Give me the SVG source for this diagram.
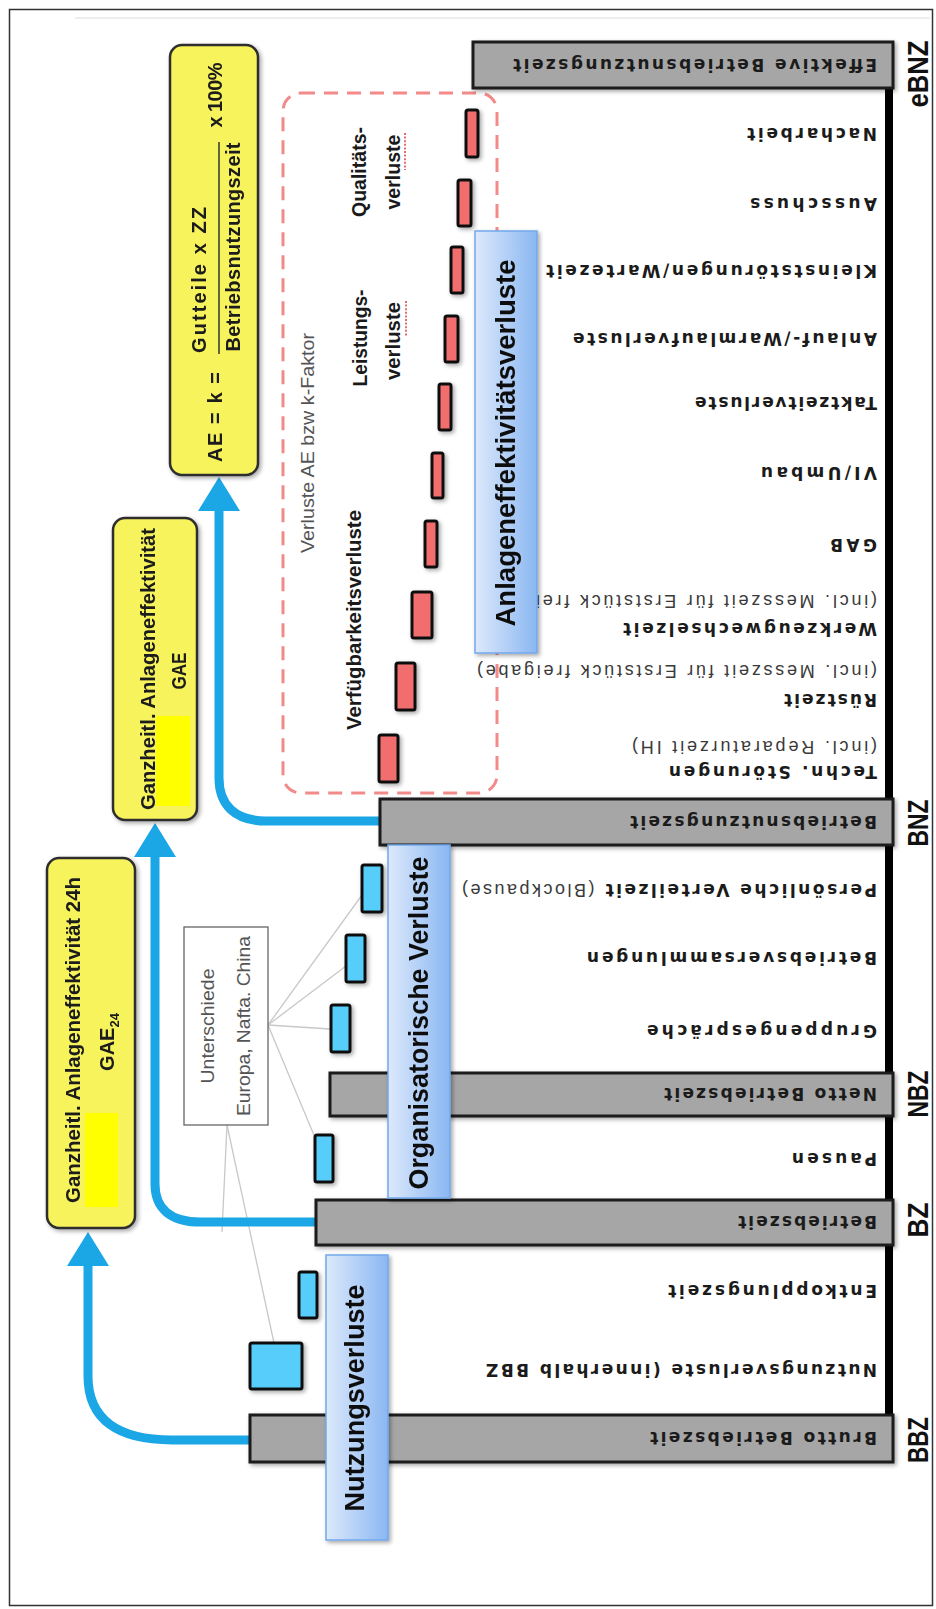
<svg xmlns="http://www.w3.org/2000/svg" width="936" height="1609" viewBox="0 0 936 1609">
  <defs>
    <style>
      .row { font-family: "DejaVu Sans", "Liberation Sans", Arial, sans-serif; font-weight: bold; font-size: 17px; fill: #1b1b1b; }
      .thin { font-family: "Liberation Sans Narrow", "Liberation Sans", Arial, sans-serif; font-weight: normal; font-size: 18px; fill: #3a3a3a; }
      .axis { font-family: "Liberation Sans Narrow", "Liberation Sans", Arial, sans-serif; font-weight: bold; font-size: 30px; fill: #111; }
      .vt { font-family: "Liberation Sans", Arial, sans-serif; font-weight: bold; font-size: 27px; fill: #111; }
      .yt { font-family: "Liberation Sans Narrow", "Liberation Sans", Arial, sans-serif; font-weight: bold; font-size: 20px; fill: #1a1a1a; }
      .note { font-family: "Liberation Sans Narrow", "Liberation Sans", Arial, sans-serif; font-size: 19px; fill: #555; }
      .cat { font-family: "Liberation Sans Narrow", "Liberation Sans", Arial, sans-serif; font-weight: bold; font-size: 20px; fill: #1a1a1a; }
      .bar { fill: #a6a6a6; stroke: #1c1c1c; stroke-width: 3; }
      .red { fill: #f26e6e; stroke: #111; stroke-width: 3; }
      .blu { fill: #56cdfb; stroke: #111; stroke-width: 3; }
      .ybox { fill: #f7f35c; stroke: #2e2e2e; stroke-width: 2.5; }
      .bbox { fill: url(#blueGrad); stroke: #73a9ec; stroke-width: 1.5; }
      .flow { fill: none; stroke: #1ba6e6; stroke-width: 9; }
      .ann { stroke: #c8c8c8; stroke-width: 1.3; fill: none; }
      .squig { stroke: #e04848; stroke-width: 1.6; stroke-dasharray: 2 1.6; }
    </style>
    <linearGradient id="blueGrad" x1="0" y1="0" x2="1" y2="0">
      <stop offset="0" stop-color="#dde9fb"/>
      <stop offset="1" stop-color="#8ab7f2"/>
    </linearGradient>
    <filter id="sh" x="-20%" y="-20%" width="140%" height="140%">
      <feDropShadow dx="2" dy="2" stdDeviation="2" flood-color="#000" flood-opacity="0.35"/>
    </filter>
    <marker id="head" viewBox="0 0 34 42" refX="0" refY="21" markerWidth="34" markerHeight="42" markerUnits="userSpaceOnUse" orient="auto">
      <path d="M0,0 L34,21 L0,42 Z" fill="#1ba6e6"/>
    </marker>
  </defs>

  <rect width="936" height="1609" fill="#fff"/>
  <!-- outer frame -->
  <rect x="9.5" y="9.5" width="923" height="1596" fill="none" stroke="#333" stroke-width="1.5"/>
  <line x1="75" y1="18" x2="930" y2="18" stroke="#eeeeee" stroke-width="2"/>

  <!-- dashed grouping of AE losses -->
  <rect id="ae-loss-frame" x="283" y="93" width="214" height="700" rx="18" fill="none" stroke="#f28a8a" stroke-width="3" stroke-dasharray="14 9"/>

  <!-- connectors -->
  <g id="connectors">
    <line class="ann" x1="268" y1="1025" x2="362" y2="895"/>
    <line class="ann" x1="268" y1="1025" x2="346" y2="966"/>
    <line class="ann" x1="268" y1="1025" x2="330" y2="1029"/>
    <line class="ann" x1="268" y1="1025" x2="316" y2="1140"/>
    <line class="ann" x1="227" y1="1125" x2="274" y2="1343"/>
    <line class="ann" x1="227" y1="1125" x2="222" y2="1232"/>
    <path class="flow" d="M251,1440 H172 C118,1440 88,1420 88,1376 V1266" marker-end="url(#head)"/>
    <path class="flow" d="M316,1222 H200 C170,1222 155,1208 155,1184 V857" marker-end="url(#head)"/>
    <path class="flow" d="M380,821 H266 C235,821 219,805 219,778 V511" marker-end="url(#head)"/>
  </g>

  <!-- time axis -->
  <line id="axis" x1="889" y1="42" x2="889" y2="1463" stroke="#000" stroke-width="8"/>

  <!-- time bars -->
  <g id="bar-ebnz"><rect class="bar" x="473" y="42" width="420" height="46" filter="url(#sh)"/></g>
  <g id="bar-bnz"><rect class="bar" x="380" y="799" width="513" height="46" filter="url(#sh)"/></g>
  <g id="bar-nbz"><rect class="bar" x="330" y="1073" width="563" height="43" filter="url(#sh)"/></g>
  <g id="bar-bz"><rect class="bar" x="316" y="1200" width="577" height="45" filter="url(#sh)"/></g>
  <g id="bar-bbz"><rect class="bar" x="250" y="1415" width="643" height="47" filter="url(#sh)"/></g>

  <!-- loss markers -->
  <g id="markers-red" filter="url(#sh)">
    <rect class="red" x="466" y="110" width="12" height="47" rx="2"/>
    <rect class="red" x="458" y="180" width="13" height="46" rx="2"/>
    <rect class="red" x="451" y="247" width="12" height="46" rx="2"/>
    <rect class="red" x="445" y="316" width="13" height="46" rx="2"/>
    <rect class="red" x="439" y="384" width="12" height="46" rx="2"/>
    <rect class="red" x="432" y="453" width="11" height="45" rx="2"/>
    <rect class="red" x="425" y="521" width="12" height="46" rx="2"/>
    <rect class="red" x="412" y="592" width="20" height="46" rx="2"/>
    <rect class="red" x="396" y="663" width="19" height="47" rx="2"/>
    <rect class="red" x="379" y="735" width="19" height="47" rx="2"/>
  </g>
  <g id="markers-blue" filter="url(#sh)">
    <rect class="blu" x="362" y="865" width="20" height="47" rx="2"/>
    <rect class="blu" x="346" y="935" width="19" height="47" rx="2"/>
    <rect class="blu" x="331" y="1005" width="19" height="47" rx="2"/>
    <rect class="blu" x="315" y="1135" width="18" height="47" rx="2"/>
    <rect class="blu" x="299" y="1272" width="18" height="46" rx="2"/>
    <rect class="blu" x="250" y="1343" width="52" height="46" rx="2"/>
  </g>

  <!-- row labels (set upside down along the time axis) -->
  <g id="row-labels" class="row" dominant-baseline="central">
    <text transform="translate(877,65) rotate(180)" textLength="364">Effektive Betriebsnutzungszeit</text>
    <text transform="translate(877,134) rotate(180)" textLength="130">Nacharbeit</text>
    <text transform="translate(877,204) rotate(180)" textLength="127">Ausschuss</text>
    <text transform="translate(877,271) rotate(180)" textLength="331">Kleinststörungen/Wartezeit</text>
    <text transform="translate(877,339) rotate(180)" textLength="304">Anlauf-/Warmlaufverluste</text>
    <text transform="translate(877,403) rotate(180)" textLength="182">Taktzeitverluste</text>
    <text transform="translate(877,473) rotate(180)" textLength="116">VI/Umbau</text>
    <text transform="translate(877,545) rotate(180)" textLength="47">GAB</text>
    <text class="thin" transform="translate(877,601) rotate(180)" textLength="341">(incl. Messzeit für Erststück frei</text>
    <text transform="translate(877,629) rotate(180)" textLength="254">Werkzeugwechselzeit</text>
    <text class="thin" transform="translate(877,671) rotate(180)" textLength="400">(incl. Messzeit für Erststück freigabe)</text>
    <text transform="translate(877,700) rotate(180)" textLength="93">Rüstzeit</text>
    <text class="thin" transform="translate(877,747) rotate(180)" textLength="245">(incl. Reparaturzeit IH)</text>
    <text transform="translate(877,772) rotate(180)" textLength="208">Techn. Störungen</text>
    <text transform="translate(877,822) rotate(180)" textLength="247">Betriebsnutzungszeit</text>
    <text transform="translate(877,890) rotate(180)" textLength="415">Persönliche Verteilzeit <tspan class="thin">(Blockpause)</tspan></text>
    <text transform="translate(877,958) rotate(180)" textLength="290">Betriebsversammlungen</text>
    <text transform="translate(877,1031) rotate(180)" textLength="230">Gruppengespräche</text>
    <text transform="translate(877,1094) rotate(180)" textLength="213">Netto Betriebszeit</text>
    <text transform="translate(877,1159) rotate(180)" textLength="85">Pausen</text>
    <text transform="translate(877,1222) rotate(180)" textLength="139">Betriebszeit</text>
    <text transform="translate(877,1291) rotate(180)" textLength="209">Entkopplungszeit</text>
    <text transform="translate(877,1370) rotate(180)" textLength="391">Nutzungsverluste (innerhalb BBZ</text>
    <text transform="translate(877,1438) rotate(180)" textLength="227">Brutto Betriebszeit</text>
  </g>

  <!-- axis abbreviations -->
  <g id="axis-labels" class="axis" text-anchor="middle" dominant-baseline="central">
    <text transform="translate(917,74) rotate(-90)" textLength="67" lengthAdjust="spacingAndGlyphs">eBNZ</text>
    <text transform="translate(917,823) rotate(-90)" textLength="47" lengthAdjust="spacingAndGlyphs">BNZ</text>
    <text transform="translate(917,1094) rotate(-90)" textLength="47" lengthAdjust="spacingAndGlyphs">NBZ</text>
    <text transform="translate(917,1220) rotate(-90)" textLength="35" lengthAdjust="spacingAndGlyphs">BZ</text>
    <text transform="translate(917,1440) rotate(-90)" textLength="46" lengthAdjust="spacingAndGlyphs">BBZ</text>
  </g>

  <!-- loss category bands -->
  <g id="band-ae" filter="url(#sh)">
    <rect class="bbox" x="475" y="231" width="62" height="422"/>
    <text class="vt" transform="translate(506,443) rotate(-90)" text-anchor="middle" dominant-baseline="central" textLength="367" lengthAdjust="spacingAndGlyphs">Anlageneffektivitätsverluste</text>
  </g>
  <g id="band-org" filter="url(#sh)">
    <rect class="bbox" x="388" y="845" width="62" height="353"/>
    <text class="vt" transform="translate(419,1023) rotate(-90)" text-anchor="middle" dominant-baseline="central" textLength="333" lengthAdjust="spacingAndGlyphs">Organisatorische Verluste</text>
  </g>
  <g id="band-nutz" filter="url(#sh)">
    <rect class="bbox" x="326" y="1255" width="62" height="285"/>
    <text class="vt" transform="translate(355,1398) rotate(-90)" text-anchor="middle" dominant-baseline="central" textLength="227" lengthAdjust="spacingAndGlyphs">Nutzungsverluste</text>
  </g>

  <!-- loss group captions -->
  <g id="loss-captions" text-anchor="middle" dominant-baseline="central">
    <text class="note" transform="translate(307,443) rotate(-90)" textLength="220" lengthAdjust="spacingAndGlyphs">Verluste AE bzw k-Faktor</text>
    <text class="cat" transform="translate(354,620) rotate(-90)" textLength="220" lengthAdjust="spacingAndGlyphs">Verfügbarkeitsverluste</text>
    <text class="cat" transform="translate(360,338) rotate(-90)" textLength="97" lengthAdjust="spacingAndGlyphs">Leistungs-</text>
    <text class="cat" transform="translate(393,341) rotate(-90)" textLength="78" lengthAdjust="spacingAndGlyphs">verluste</text>
    <text class="cat" transform="translate(359,172) rotate(-90)" textLength="90" lengthAdjust="spacingAndGlyphs">Qualitäts-</text>
    <text class="cat" transform="translate(393,172) rotate(-90)" textLength="75" lengthAdjust="spacingAndGlyphs">verluste</text>
    <line class="squig" x1="406" y1="301" x2="406" y2="336"/>
    <line class="squig" x1="405" y1="133" x2="405" y2="170"/>
  </g>

  <!-- regional note -->
  <g id="note-regions">
    <rect x="184" y="927" width="84" height="198" fill="#fff" stroke="#666" stroke-width="1.3"/>
    <text class="note" transform="translate(207,1026) rotate(-90)" text-anchor="middle" dominant-baseline="central" textLength="115" lengthAdjust="spacingAndGlyphs">Unterschiede</text>
    <text class="note" transform="translate(243,1026) rotate(-90)" text-anchor="middle" dominant-baseline="central" textLength="180" lengthAdjust="spacingAndGlyphs">Europa, Nafta. China</text>
  </g>

  <!-- KPI boxes -->
  <g id="kpi-ae" filter="url(#sh)">
    <rect class="ybox" x="170" y="45" width="88" height="430" rx="12"/>
    <text class="yt" transform="translate(215,417) rotate(-90)" text-anchor="middle" dominant-baseline="central" textLength="90">AE = k =</text>
    <text class="yt" transform="translate(199,280) rotate(-90)" text-anchor="middle" dominant-baseline="central" textLength="146">Gutteile x ZZ</text>
    <line x1="219" y1="142" x2="219" y2="354" stroke="#333" stroke-width="1.5"/>
    <text class="yt" transform="translate(233,247) rotate(-90)" text-anchor="middle" dominant-baseline="central" textLength="209">Betriebsnutzungszeit</text>
    <text class="yt" transform="translate(215,95) rotate(-90)" text-anchor="middle" dominant-baseline="central" textLength="65">x 100%</text>
  </g>
  <g id="kpi-gae" filter="url(#sh)">
    <rect class="ybox" x="113" y="518" width="84" height="302" rx="12"/>
    <rect x="156" y="716" width="34" height="90" fill="#ffff00"/>
    <text class="yt" transform="translate(148,669) rotate(-90)" text-anchor="middle" dominant-baseline="central" textLength="282" lengthAdjust="spacingAndGlyphs">Ganzheitl. Anlageneffektivität</text>
    <text class="yt" transform="translate(179,671) rotate(-90)" text-anchor="middle" dominant-baseline="central" textLength="37" lengthAdjust="spacingAndGlyphs">GAE</text>
  </g>
  <g id="kpi-gae24" filter="url(#sh)">
    <rect class="ybox" x="47" y="858" width="88" height="370" rx="12"/>
    <rect x="85" y="1113" width="33" height="94" fill="#ffff00"/>
    <text class="yt" transform="translate(73,1040) rotate(-90)" text-anchor="middle" dominant-baseline="central" textLength="326" lengthAdjust="spacingAndGlyphs">Ganzheitl. Anlageneffektivität 24h</text>
    <text class="yt" transform="translate(107,1042) rotate(-90)" text-anchor="middle" dominant-baseline="central">GAE<tspan font-size="13" baseline-shift="sub">24</tspan></text>
  </g>
</svg>
